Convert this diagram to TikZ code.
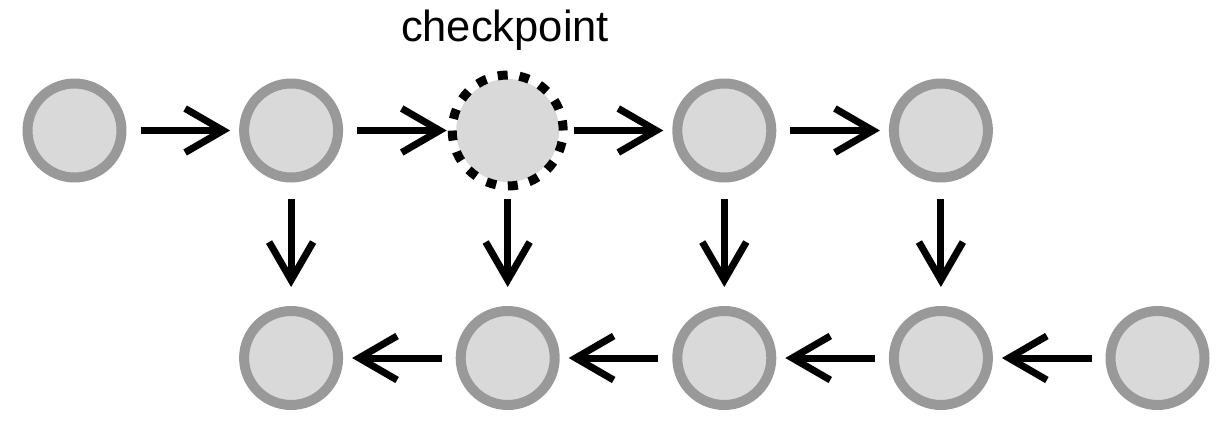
\documentclass[tikz,border=0pt]{standalone}
\usepackage{fontspec}
\setmainfont{Liberation Sans}
\usetikzlibrary{arrows.meta}
\definecolor{ringgray}{HTML}{999999}
\definecolor{fillgray}{HTML}{D9D9D9}
\begin{document}
\begin{tikzpicture}[x=1pt,y=-1pt,
  state/.style={circle,draw=ringgray,fill=fillgray,line width=10pt,minimum size=94pt,inner sep=0pt},
  ckptfill/.style={circle,fill=fillgray,minimum size=103pt,inner sep=0pt},
  ckpt/.style={circle,draw=black,line width=9pt,dash pattern=on 10pt off 11.8pt,minimum size=111pt,inner sep=0pt},
  flow/.style={line width=7pt,-{Straight Barb[length=38pt,width=44pt]}},
  hflow/.style={flow,shorten <=66pt,shorten >=61pt},
  vflow/.style={flow,shorten <=68.5pt,shorten >=71pt}]
\useasboundingbox (0,0) rectangle (1220,436);
\def\yt{130.5}\def\yb{358}
\node[state] (t1) at (74.5,\yt) {};
\node[state] (t2) at (291.1,\yt) {};
\node[ckptfill] (t3in) at (507.7,\yt) {};
\node[ckpt]  (t3) at (507.7,\yt) {};
\node[state] (t4) at (724.3,\yt) {};
\node[state] (t5) at (940.9,\yt) {};
\node[state] (b2) at (291.1,\yb) {};
\node[state] (b3) at (507.7,\yb) {};
\node[state] (b4) at (724.3,\yb) {};
\node[state] (b5) at (940.9,\yb) {};
\node[state] (b6) at (1157.5,\yb) {};
\node[anchor=base,inner sep=0pt,font=\fontsize{43.5}{50}\selectfont] (lbl) at (505,42) {checkpoint};
\draw[hflow] (t1.center) -- (t2.center);
\draw[hflow] (t2.center) -- (t3.center);
\draw[hflow] (t3.center) -- (t4.center);
\draw[hflow] (t4.center) -- (t5.center);
\draw[vflow] (t2.center) -- (b2.center);
\draw[vflow] (t3.center) -- (b3.center);
\draw[vflow] (t4.center) -- (b4.center);
\draw[vflow] (t5.center) -- (b5.center);
\draw[hflow] (b6.center) -- (b5.center);
\draw[hflow] (b5.center) -- (b4.center);
\draw[hflow] (b4.center) -- (b3.center);
\draw[hflow] (b3.center) -- (b2.center);
\end{tikzpicture}
\end{document}
